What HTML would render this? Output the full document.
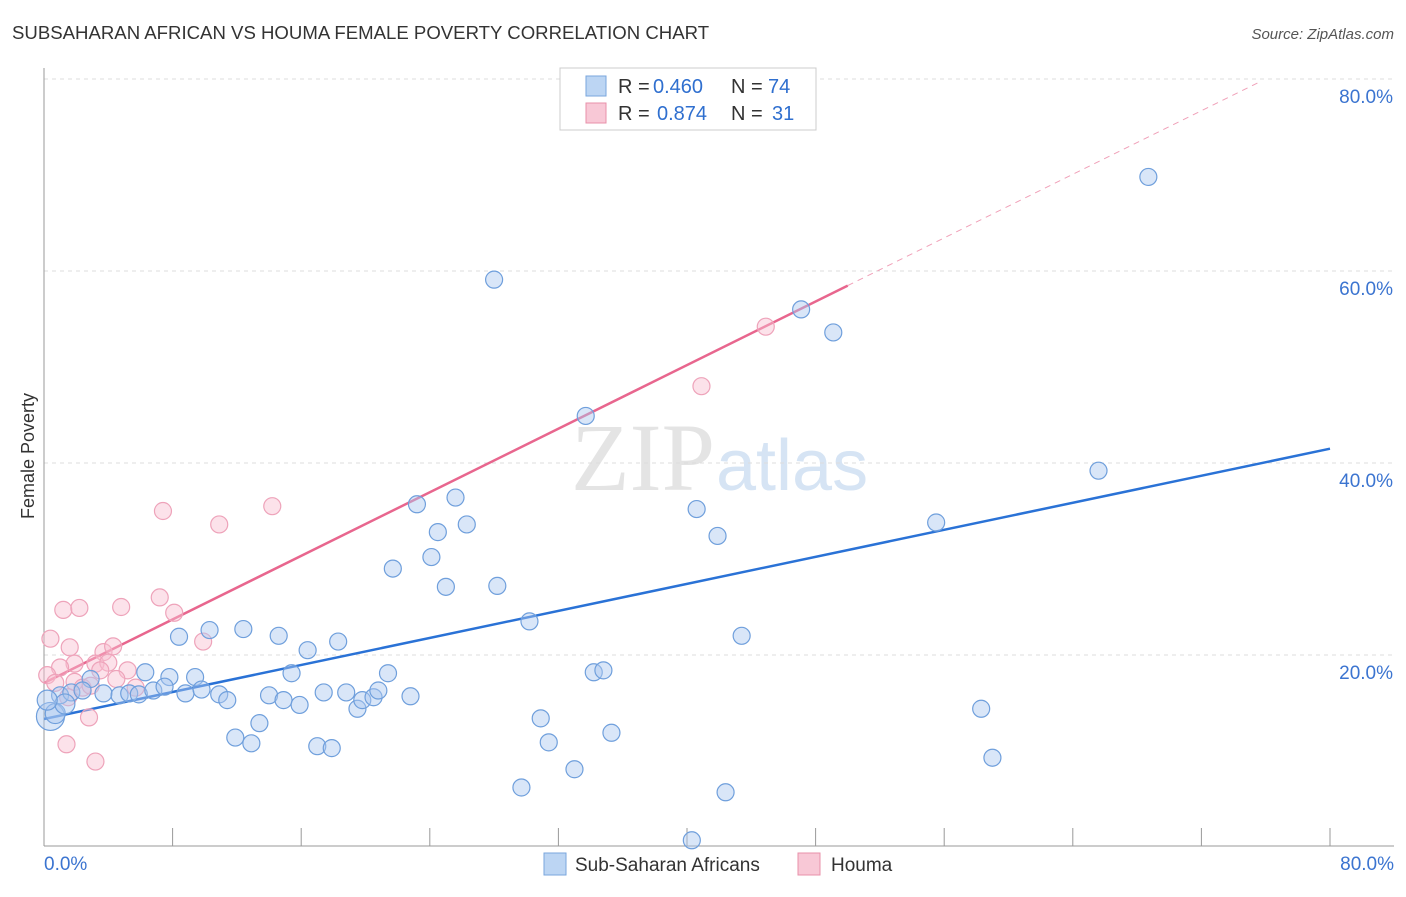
<!DOCTYPE html>
<html><head><meta charset="utf-8"><style>
body{margin:0;background:#fff;font-family:"Liberation Sans",sans-serif}
</style></head><body>
<svg id="chart" width="1406" height="892" xmlns="http://www.w3.org/2000/svg">
<text x="12" y="39" font-size="18.6" fill="#333">SUBSAHARAN AFRICAN VS HOUMA FEMALE POVERTY CORRELATION CHART</text>
<text x="1394" y="39" font-size="15" fill="#555" font-style="italic" text-anchor="end">Source: ZipAtlas.com</text>
<text x="715" y="490" font-size="96" fill="#e4e4e4" text-anchor="end" font-family="Liberation Serif">ZIP</text>
<text x="716" y="490" font-size="72" fill="#d6e4f4">atlas</text>
<text x="34" y="456" font-size="18" fill="#333" text-anchor="middle" transform="rotate(-90 34 456)">Female Poverty</text>
<g id="grid"></g><g id="axes"></g><g id="lines"></g><g id="pts"></g>
<g>
<rect x="560" y="68" width="256" height="62" fill="#fff" stroke="#ccc"/>
<rect x="586" y="76" width="20" height="20" fill="#bcd5f3" stroke="#7aa6dd"/>
<text x="618" y="93" font-size="20" fill="#333">R =</text>
<text x="653" y="93" font-size="20" fill="#2f6fcf">0.460</text>
<text x="731" y="93" font-size="20" fill="#333">N =</text>
<text x="768" y="93" font-size="20" fill="#2f6fcf">74</text>
<rect x="586" y="103" width="20" height="20" fill="#f8c8d6" stroke="#e890aa"/>
<text x="618" y="120" font-size="20" fill="#333">R =</text>
<text x="657" y="120" font-size="20" fill="#2f6fcf">0.874</text>
<text x="731" y="120" font-size="20" fill="#333">N =</text>
<text x="772" y="120" font-size="20" fill="#2f6fcf">31</text>
</g>
<g>
<rect x="544" y="853" width="22" height="22" fill="#bcd5f3" stroke="#7aa6dd"/>
<text x="575" y="871" font-size="19" fill="#333">Sub-Saharan Africans</text>
<rect x="798" y="853" width="22" height="22" fill="#f8c8d6" stroke="#e890aa"/>
<text x="831" y="871" font-size="19" fill="#333">Houma</text>
</g>
</svg>
<script>
const blueX=[68.7,28.0,47.1,49.1,33.7,65.6,23.2,25.6,26.3,24.5,40.6,41.9,55.5,21.7,24.1,25.0,28.2,30.2,43.4,8.4,10.3,12.4,14.6,16.4,18.3,15.4,21.4,6.3,7.8,9.4,34.2,34.8,2.9,1.0,1.7,2.4,3.7,4.7,5.3,5.9,6.8,7.5,8.8,9.8,10.9,11.4,14.0,14.9,15.9,17.4,18.8,19.5,19.8,20.5,20.8,22.8,13.4,11.9,12.9,17.0,17.9,30.9,31.4,35.3,33.0,29.7,42.4,40.3,58.3,59.0,0.4,0.7,1.3,0.2];
const blueY=[69.8,59.1,56.0,53.6,44.9,39.2,35.7,36.4,33.6,32.8,35.2,32.4,33.8,29.0,30.2,27.1,27.2,23.5,22.0,21.9,22.6,22.7,22.0,20.5,21.4,18.1,18.1,18.2,17.7,17.7,18.2,18.4,17.5,15.8,16.1,16.3,16.0,15.8,16.0,15.9,16.3,16.7,16.0,16.4,15.9,15.3,15.8,15.3,14.8,16.1,16.1,14.4,15.3,15.6,16.3,15.7,12.9,11.4,10.8,10.5,10.3,13.4,10.9,11.9,8.1,6.2,5.7,0.7,14.4,9.3,13.6,13.9,14.9,15.3];
const pinkX=[7.4,10.9,14.2,1.2,2.2,4.8,7.2,8.1,0.4,1.6,9.9,3.7,4.3,1.9,3.2,4.0,1.0,0.2,0.7,1.9,3.5,5.2,4.5,5.7,2.4,2.9,1.5,2.8,1.4,3.2,40.9,44.9];
const pinkY=[35.0,33.6,35.5,24.7,24.9,25.0,26.0,24.4,21.7,20.8,21.4,20.3,20.9,19.1,19.1,19.2,18.7,17.9,17.1,17.2,18.4,18.4,17.5,16.6,16.6,16.8,15.6,13.5,10.7,8.9,48.0,54.2];
const blueFit=[13.33,0.352], pinkFit=[17.08,0.828];
const xTicks=["0.0%","80.0%"], yTicks=[20,40,60,80];
const NS="http://www.w3.org/2000/svg";
const sx=v=>44+v/80*1286, sy=v=>847-v*9.6;
function mk(tag,attrs,parent){const e=document.createElementNS(NS,tag);for(const k in attrs)e.setAttribute(k,attrs[k]);document.getElementById(parent).appendChild(e);return e;}
yTicks.forEach(t=>{
 const l=mk('line',{x1:44,x2:1394,y1:sy(t),y2:sy(t),stroke:'#ddd','stroke-dasharray':'4,4'},'grid');
 
 
 const tx=mk('text',{x:1393,y:sy(t)+24,'font-size':19,fill:'#3b74d0','text-anchor':'end'},'grid');
 tx.textContent=t.toFixed(1)+'%';
 
 
});
const ax=mk('line',{x1:44,x2:44,y1:68,y2:846,stroke:'#999'},'axes');


const bx=mk('line',{x1:44,x2:1394,y1:846,y2:846,stroke:'#999'},'axes');


for(let i=0;i<=10;i++){const x=sx(i*8);const t=mk('line',{x1:x,x2:x,y1:828,y2:846,stroke:'#999'},'axes');
 
 }
[[0,'start',44],[1,'end',1394]].forEach(([i,a,x])=>{const t=mk('text',{x:x,y:870,'font-size':19,fill:'#3b74d0','text-anchor':a},'axes');t.textContent=xTicks[i];
 
 });
const bl=mk('line',{x1:sx(0),y1:sy(blueFit[0]),x2:sx(80),y2:sy(blueFit[0]+blueFit[1]*80),stroke:'#2a72d6','stroke-width':2.5},'lines');


const pl=mk('line',{x1:sx(0),y1:sy(pinkFit[0]),x2:sx(50),y2:sy(pinkFit[0]+pinkFit[1]*50),stroke:'#e8668e','stroke-width':2.5},'lines');


const pd=mk('line',{x1:sx(50),y1:sy(pinkFit[0]+pinkFit[1]*50),x2:sx(75.5),y2:sy(pinkFit[0]+pinkFit[1]*75.5),stroke:'#f0a0b8','stroke-width':1,'stroke-dasharray':'6,5'},'lines');


pinkX.forEach((v,i)=>{const c=mk('circle',{cx:sx(v),cy:sy(pinkY[i]),r:8.5,fill:'rgba(248,190,208,0.45)',stroke:'#eea3ba','stroke-width':1.2},'pts');
 
 });
blueX.forEach((v,i)=>{const c=mk('circle',{cx:sx(v),cy:sy(blueY[i]),r:(i>=70?(i==70?14:10):8.5),fill:'rgba(170,200,240,0.45)',stroke:'#6f9fdc','stroke-width':1.2},'pts');
 
 });
</script>
</body></html>
